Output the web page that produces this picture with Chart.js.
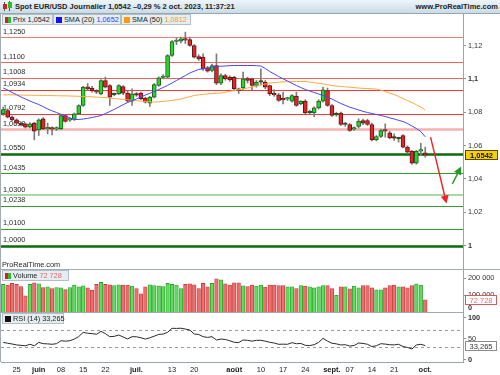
<!DOCTYPE html>
<html><head><meta charset="utf-8">
<script src="https://cdn.jsdelivr.net/npm/chart.js@4.4.0/dist/chart.umd.min.js"></script>
<style>
body{margin:0;background:#fff;}
#wrap{position:relative;width:500px;height:375px;overflow:hidden;background:#fff;font-family:"Liberation Sans",Arial,sans-serif;color:#222;}
canvas{position:absolute;left:0;}
#hdr{position:absolute;left:0;top:0;width:500px;height:13px;background:linear-gradient(#eef5f9,#cadbe6);border-bottom:1px solid #95a7b3;}
#title{position:absolute;left:15px;top:2px;font-size:7.5px;font-weight:bold;line-height:9px;white-space:nowrap;}
#site{position:absolute;right:2px;top:2px;font-size:7.5px;font-weight:bold;line-height:9px;}
.ic{position:absolute;}
.box{position:absolute;height:9px;background:#e6edf1;border:1px solid #b3bfc7;font-size:7.3px;line-height:9px;white-space:nowrap;}
.box .sq{position:absolute;left:2px;top:1.5px;width:6px;height:6px;}
.box .tx{position:absolute;left:10px;top:0;}
.rg{background:linear-gradient(90deg,#d42020 50%,#2bc02b 50%);}
.line{position:absolute;background:#a3abb1;}
.pr{position:absolute;font-size:7.3px;line-height:9px;white-space:nowrap;}
</style></head>
<body><div id="wrap">
<canvas id="cPrice" width="500" height="255" style="top:14px"></canvas>
<canvas id="cVol" width="500" height="49" style="top:269px"></canvas>
<canvas id="cRsi" width="500" height="63" style="top:312px"></canvas>

<div id="hdr">
  <div class="ic" style="left:4px;top:2px;width:1px;height:9px;background:#555"></div>
  <div class="ic" style="left:2.5px;top:4px;width:4px;height:5px;background:#d42020"></div>
  <div class="ic" style="left:9px;top:1px;width:1px;height:10px;background:#555"></div>
  <div class="ic" style="left:7.5px;top:2px;width:4px;height:6px;background:#2bc02b"></div>
  <span id="title">Spot EUR/USD Journalier 1,0542 –0,29 % 2 oct. 2023, 11:37:21</span>
  <span id="site">www.ProRealTime.com</span>
</div>
<div class="line" style="left:0;top:14px;width:1px;height:348px;"></div>
<div class="line" style="left:0;top:269px;width:500px;height:1px;"></div>
<div class="line" style="left:0;top:312px;width:463px;height:1px;"></div>

<div class="box" style="left:2px;top:14px;width:49px;"><span class="sq rg"></span><span class="tx">Prix 1,0542</span></div>
<div class="box" style="left:53px;top:14px;width:66px;"><span class="sq" style="background:#1010ff"></span><span class="tx">SMA (20) <span style="color:#3a3aff">1,0652</span></span></div>
<div class="box" style="left:121px;top:14px;width:68px;"><span class="sq" style="background:#ff9a10"></span><span class="tx">SMA (50) <span style="color:#f59a20">1,0812</span></span></div>

<div class="pr" style="left:2px;top:260px;">ProRealTime.com</div>
<div class="box" style="left:2px;top:270px;width:65px;"><span class="sq rg"></span><span class="tx">Volume <span style="color:#e06a6a">72 728</span></span></div>
<div class="box" style="left:2px;top:313px;width:60px;"><span class="sq" style="background:#111"></span><span class="tx">RSI (14) 33,265</span></div>
</div>

<script>
const FONT = '"Liberation Sans", Arial, sans-serif';

// ---- data ----
const nSlots = 104;                         // 96 trading days + empty space to the right
const slots = Array.from({length: nSlots}, (_, i) => i);
const tickIndex = [3, 8, 13, 18, 23, 30, 38, 43, 52, 58, 63, 68, 74, 78, 83, 88, 95];
const tickText  = ['25','juin','08','15','22','juil.','13','20','août','10','17','24','sept.','07','14','21','oct.'];
const monthText = ['juin','juil.','août','sept.','oct.'];

const open  = [1.0790,1.0810,1.0770,1.0754,1.0734,1.0730,1.0710,1.0734,1.0694,1.0760,
               1.0700,1.0705,1.0698,1.0700,1.0780,1.0752,1.0756,1.0790,1.0840,1.0952,
               1.0944,1.0925,1.0910,1.0990,1.0960,1.0905,1.0910,1.0954,1.0914,1.0866,
               1.0905,1.0914,1.0884,1.0854,1.0890,1.0960,1.1008,1.1010,1.1140,1.1224,
               1.1226,1.1236,1.1236,1.1200,1.1134,1.1130,1.1066,1.1050,1.1080,1.0974,
               1.1020,1.1010,1.1010,1.0940,1.0946,1.1002,1.1000,1.0960,1.0980,1.0980,
               1.0960,1.0910,1.0904,1.0880,1.0878,1.0866,1.0896,1.0850,1.0866,1.0796,
               1.0796,1.0826,1.0866,1.0930,1.0840,1.0784,1.0794,1.0726,1.0726,1.0698,
               1.0714,1.0750,1.0750,1.0726,1.0634,1.0654,1.0690,1.0676,1.0646,1.0640,
               1.0660,1.0590,1.0566,1.0494,1.0566,1.0556];
const high  = [1.0830,1.0820,1.0778,1.0760,1.0740,1.0735,1.0738,1.0740,1.0760,1.0768,
               1.0734,1.0712,1.0712,1.0785,1.0786,1.0765,1.0795,1.0845,1.0955,1.0972,
               1.0955,1.0935,1.0995,1.1010,1.0965,1.0915,1.0965,1.0960,1.0925,1.0940,
               1.0918,1.0920,1.0890,1.0895,1.0972,1.1012,1.1025,1.1145,1.1230,1.1245,
               1.1250,1.1280,1.1250,1.1205,1.1145,1.1150,1.1075,1.1088,1.1150,1.1030,
               1.1028,1.1018,1.1015,1.0945,1.1040,1.1010,1.1005,1.0990,1.1060,1.0990,
               1.0962,1.0935,1.0912,1.0920,1.0890,1.0905,1.0920,1.0870,1.0875,1.0812,
               1.0832,1.0875,1.0950,1.0945,1.0845,1.0800,1.0800,1.0740,1.0732,1.0712,
               1.0760,1.0758,1.0758,1.0735,1.0660,1.0698,1.0730,1.0686,1.0670,1.0650,
               1.0665,1.0598,1.0570,1.0570,1.0614,1.0590];
const low   = [1.0780,1.0765,1.0748,1.0728,1.0718,1.0705,1.0705,1.0634,1.0660,1.0695,
               1.0670,1.0664,1.0690,1.0695,1.0740,1.0745,1.0750,1.0785,1.0835,1.0932,
               1.0920,1.0912,1.0905,1.0945,1.0840,1.0898,1.0905,1.0905,1.0860,1.0840,
               1.0895,1.0875,1.0855,1.0834,1.0885,1.0955,1.1000,1.1005,1.1135,1.1205,
               1.1215,1.1212,1.1195,1.1125,1.1110,1.1050,1.1040,1.1042,1.0965,1.0965,
               1.0992,1.0985,1.0935,1.0912,1.0935,1.0975,1.0935,1.0950,1.0965,1.0940,
               1.0900,1.0895,1.0865,1.0850,1.0870,1.0860,1.0835,1.0845,1.0790,1.0788,
               1.0772,1.0818,1.0860,1.0835,1.0775,1.0775,1.0720,1.0715,1.0685,1.0690,
               1.0705,1.0725,1.0720,1.0628,1.0628,1.0648,1.0650,1.0640,1.0630,1.0620,
               1.0585,1.0552,1.0488,1.0488,1.0540,1.0530];
const close = [1.0815,1.0770,1.0754,1.0734,1.0724,1.0710,1.0730,1.0686,1.0754,1.0700,
               1.0705,1.0698,1.0702,1.0780,1.0745,1.0756,1.0790,1.0840,1.0950,1.0940,
               1.0928,1.0920,1.0990,1.0950,1.0890,1.0908,1.0960,1.0914,1.0866,1.0910,
               1.0902,1.0880,1.0860,1.0890,1.0966,1.1006,1.1012,1.1140,1.1224,1.1228,
               1.1240,1.1232,1.1200,1.1130,1.1120,1.1060,1.1046,1.1080,1.0974,1.1020,
               1.1000,1.0994,1.0940,1.0930,1.1000,1.0990,1.0960,1.0980,1.0982,1.0950,
               1.0910,1.0904,1.0870,1.0874,1.0882,1.0900,1.0840,1.0866,1.0796,1.0798,
               1.0826,1.0866,1.0934,1.0840,1.0780,1.0786,1.0726,1.0728,1.0690,1.0702,
               1.0746,1.0734,1.0726,1.0634,1.0654,1.0690,1.0686,1.0646,1.0644,1.0642,
               1.0590,1.0560,1.0494,1.0566,1.0570,1.0542];
const sma20 = [1.0945,1.0933,1.0918,1.0905,1.0891,1.0879,1.0867,1.0856,1.0846,1.0833,
               1.0819,1.0808,1.0798,1.0787,1.0777,1.0766,1.0756,1.0756,1.0759,1.0763,
               1.0768,1.0774,1.0780,1.0792,1.0804,1.0817,1.0831,1.0845,1.0858,1.0869,
               1.0879,1.0891,1.0903,1.0913,1.0924,1.0936,1.0948,1.0961,1.0975,1.0990,
               1.1005,1.1020,1.1035,1.1046,1.1056,1.1061,1.1065,1.1070,1.1074,1.1076,
               1.1077,1.1079,1.1080,1.1080,1.1080,1.1080,1.1080,1.1079,1.1077,1.1062,
               1.1044,1.1029,1.1014,1.1000,1.0987,1.0973,1.0960,1.0948,1.0936,1.0927,
               1.0918,1.0909,1.0900,1.0889,1.0879,1.0865,1.0852,1.0841,1.0830,1.0822,
               1.0813,1.0805,1.0798,1.0792,1.0786,1.0780,1.0774,1.0766,1.0759,1.0751,
               1.0744,1.0732,1.0717,1.0702,1.0684,1.0652];
const sma50 = [1.0904,1.0904,1.0904,1.0903,1.0903,1.0902,1.0902,1.0901,1.0901,1.0900,
               1.0900,1.0899,1.0899,1.0898,1.0898,1.0897,1.0896,1.0895,1.0894,1.0893,
               1.0892,1.0890,1.0889,1.0887,1.0884,1.0882,1.0879,1.0877,1.0874,1.0871,
               1.0869,1.0866,1.0864,1.0862,1.0860,1.0862,1.0865,1.0867,1.0871,1.0875,
               1.0879,1.0886,1.0893,1.0900,1.0904,1.0907,1.0910,1.0912,1.0913,1.0915,
               1.0920,1.0925,1.0930,1.0935,1.0939,1.0945,1.0951,1.0957,1.0963,1.0969,
               1.0975,1.0977,1.0980,1.0982,1.0983,1.0983,1.0984,1.0984,1.0984,1.0981,
               1.0978,1.0973,1.0969,1.0965,1.0960,1.0957,1.0954,1.0952,1.0950,1.0947,
               1.0945,1.0943,1.0942,1.0940,1.0939,1.0932,1.0924,1.0915,1.0906,1.0894,
               1.0882,1.0870,1.0858,1.0844,1.0831,1.0812];
const volume = [164000,160000,170000,164000,152000,97000,164000,174000,168000,146000,
                150000,140000,146000,144000,134000,146000,160000,150000,156000,144000,
                130000,164000,176000,164000,162000,158000,162000,160000,160000,154000,
                140000,108000,150000,162000,158000,156000,152000,170000,164000,160000,
                140000,164000,168000,162000,140000,170000,150000,170000,198000,192000,
                168000,160000,174000,174000,156000,152000,160000,154000,160000,148000,
                160000,160000,158000,158000,150000,150000,140000,158000,154000,150000,
                144000,150000,158000,158000,140000,99000,150000,150000,138000,154000,
                144000,158000,158000,144000,132000,132000,144000,158000,160000,150000,
                150000,144000,158000,168000,160000,72728];
const rsi = [41,39,37.2,35,34,33,36.5,33,41,38,
             37.5,36.5,38,45,44,45,49,55,65,63,
             62,60.5,67.5,62,54.7,55.5,58.7,54,49.2,54.7,
             54.5,52,49,52,56,60,61,65.2,74.8,74.5,
             75,73,70.7,61.1,60,54.7,53,54.7,46.8,49,
             48,45,41.3,40.5,46.8,46,44,46,46,44,
             41.3,39.5,36.5,36.8,36.5,40.4,37.9,38.5,34,33.5,
             35.5,41,50.8,44,38.9,37.5,34.8,35.5,32.4,33.5,
             39.6,38.5,36.5,31,33,37.9,37,35.5,35,36.5,
             31,29,25.2,34.8,36.5,33.265];

const priceTicks = [1, 1.02, 1.04, 1.06, 1.08, 1.1, 1.12];
const volTicks = [100000, 200000];
const volZero = 0;
const rsiTicks = [0, 50, 100];
const rsiBands = [30, 70];

const levels      = [1.125, 1.11, 1.1008, 1.0934, 1.0792, 1.0698, 1.055, 1.0435, 1.03, 1.0238, 1.01, 1.0];
const levelText   = ['1,1250','1,1100','1,1008','1,0934','1,0792','1,0698','1,0550','1,0435','1,0300','1,0238','1,0100','1,0000'];
const levelColor  = ['#f07a7a','#f06262','#f06262','#f03a3a','#f03a3a','#f6b0b0','#0b6b0b','#2e9e2e','#a9d9a9','#2e9e2e','#2e9e2e','#0b6b0b'];
const levelWidth  = [1, 1, 1, 1, 1, 2.5, 2.5, 1, 2, 1, 1, 2.5];

const arrowRed   = {from: [96.2, 1.0650], to: [99.8, 1.0252], color: '#ee2222'};
const arrowGreen = {from: [101.1, 1.0370], to: [103.1, 1.0474], color: '#2a962a'};

// ---- helpers ----
function tickLabelFor(i){ const k = tickIndex.indexOf(i); return k < 0 ? '' : tickText[k]; }
function fmtPrice(v){ return v.toFixed(2).replace(/0+$/,'').replace(/\.$/,'').replace('.',','); }
function fmtPrice4(v){ return v.toFixed(4).replace('.', ','); }
function fmtVol(v){ return String(v).replace(/\B(?=(\d{3})+(?!\d))/g, ' '); }
const isUp = i => close[i] >= open[i];

function xScale(show){
  return {
    type: 'category', labels: slots, offset: true, display: show,
    grid: {display: false, drawTicks: false},
    border: {display: show, color: '#9aa4ab'},
    ticks: {display: show, autoSkip: false, maxRotation: 0, minRotation: 0, padding: 3, color: '#222',
      callback: (v, i) => tickLabelFor(i),
      font: c => ({family: FONT, size: 7.5, weight: monthText.includes(tickLabelFor(c.index)) ? 'bold' : 'normal'})},
    afterFit: s => { s.paddingLeft = 0; s.paddingRight = 0; if (show) s.height = 13; }
  };
}
function yScale(min, max, ticks, fmt, boldFn){
  return {
    position: 'right', min, max,
    grid: {drawOnChartArea: false, drawTicks: true, tickLength: 3, color: '#8a949b'},
    border: {display: true, color: '#9aa4ab'},
    ticks: {padding: 2, color: '#333', callback: v => fmt(v),
      font: c => ({family: FONT, size: 7.3, weight: boldFn(c.tick ? c.tick.value : 0) ? 'bold' : 'normal'})},
    afterBuildTicks: s => { s.ticks = ticks.map(v => ({value: v})); },
    afterFit: s => { s.width = 37; s.paddingTop = 0; s.paddingBottom = 0; }
  };
}
function baseOpts(){
  return {responsive: false, animation: false, devicePixelRatio: 1, events: [],
    layout: {padding: {left: 1, right: 0, top: 0, bottom: 0}},
    plugins: {legend: {display: false}, tooltip: {enabled: false}}};
}
function valueBox(ctx, x, y, w, txt, fill, stroke, color, bold){
  ctx.save();
  ctx.fillStyle = fill; ctx.strokeStyle = stroke; ctx.lineWidth = 1;
  ctx.fillRect(x, Math.round(y) - 5, w, 10);
  ctx.strokeRect(x + 0.5, Math.round(y) - 4.5, w - 1, 9);
  ctx.fillStyle = color; ctx.font = (bold ? 'bold ' : '') + '7.5px ' + FONT;
  ctx.textAlign = 'center'; ctx.textBaseline = 'middle';
  ctx.fillText(txt, x + w / 2, Math.round(y) + 0.5);
  ctx.restore();
}
function drawArrow(chart, a){
  const {ctx, scales: {x, y}} = chart;
  const x0 = x.getPixelForValue(a.from[0]), y0 = y.getPixelForValue(a.from[1]);
  const x1 = x.getPixelForValue(a.to[0]),   y1 = y.getPixelForValue(a.to[1]);
  const ang = Math.atan2(y1 - y0, x1 - x0), L = 8, W = 4;
  const bx = x1 - L * Math.cos(ang), by = y1 - L * Math.sin(ang);
  ctx.save();
  ctx.strokeStyle = a.color; ctx.fillStyle = a.color; ctx.lineWidth = 1.4;
  ctx.beginPath(); ctx.moveTo(x0, y0); ctx.lineTo(bx, by); ctx.stroke();
  ctx.beginPath(); ctx.moveTo(x1, y1);
  ctx.lineTo(bx + W * Math.sin(ang), by - W * Math.cos(ang));
  ctx.lineTo(bx - W * Math.sin(ang), by + W * Math.cos(ang));
  ctx.closePath(); ctx.fill();
  ctx.restore();
}

// ---- price chart ----
const pricePlugin = {
  id: 'priceDeco',
  beforeDatasetsDraw(chart){
    const {ctx, chartArea: a, scales: {y}} = chart;
    ctx.save();
    levels.forEach((v, k) => {
      let py = Math.round(y.getPixelForValue(v));
      if (Math.round(levelWidth[k]) % 2 === 1) py += 0.5;
      ctx.strokeStyle = levelColor[k]; ctx.lineWidth = levelWidth[k];
      ctx.beginPath(); ctx.moveTo(a.left - 1, py); ctx.lineTo(a.right, py); ctx.stroke();
    });
    ctx.fillStyle = '#2a2a2a'; ctx.font = '7.3px ' + FONT; ctx.textBaseline = 'middle';
    levels.forEach((v, k) => { ctx.fillText(levelText[k], 3, y.getPixelForValue(v) - 5.5); });
    ctx.restore();
  },
  afterDatasetsDraw(chart){
    drawArrow(chart, arrowRed);
    drawArrow(chart, arrowGreen);
    const y = chart.scales.y;
    valueBox(chart.ctx, 465, y.getPixelForValue(close[close.length - 1]), 33,
      fmtPrice4(close[close.length - 1]), '#f6cf0a', '#5a4a00', '#111', true);
  }
};

new Chart(document.getElementById('cPrice'), {
  type: 'bar',
  data: {labels: slots, datasets: [
    {type: 'line', data: sma20, borderColor: '#4646ff', borderWidth: 1, pointRadius: 0, tension: 0, order: 0},
    {type: 'line', data: sma50, borderColor: '#ffa83e', borderWidth: 1, pointRadius: 0, tension: 0, order: 0},
    {data: open.map((o, i) => [o, close[i]]), grouped: false, barThickness: 4, minBarLength: 1.5,
      borderWidth: 1, borderSkipped: false,
      backgroundColor: open.map((o, i) => Math.abs(close[i] - o) < 0.0003 ? '#333' : (isUp(i) ? '#2fd02f' : '#e02626')),
      borderColor: open.map((o, i) => isUp(i) ? '#175f17' : '#5e1515'), order: 1},
    {data: low.map((l, i) => [l, high[i]]), grouped: false, barThickness: 1, backgroundColor: '#7c7c7c', order: 2}
  ]},
  options: Object.assign(baseOpts(), {
    scales: {x: xScale(false),
      y: yScale(0.9859, 1.1389, priceTicks, fmtPrice, v => Math.abs(v * 10 - Math.round(v * 10)) < 1e-6)}
  }),
  plugins: [pricePlugin]
});

// ---- volume chart ----
const volPlugin = {
  id: 'volDeco',
  afterDatasetsDraw(chart){
    const {ctx, chartArea: a, scales: {y}} = chart;
    ctx.save();
    ctx.fillStyle = '#333'; ctx.font = 'bold 7.3px ' + FONT; ctx.textBaseline = 'middle';
    ctx.fillText(fmtVol(volZero), a.right + 5, y.getPixelForValue(volZero) - 4.5);
    ctx.restore();
    const v = volume[volume.length - 1];
    valueBox(ctx, 465, y.getPixelForValue(v), 32, fmtVol(v), '#ffffff', '#d85a5a', '#e06a6a', false);
  }
};
const volOpts = baseOpts(); volOpts.layout.padding.bottom = 6;
volOpts.scales = {x: xScale(false), y: yScale(0, 256000, volTicks, fmtVol, v => v === 0)};
new Chart(document.getElementById('cVol'), {
  type: 'bar',
  data: {labels: slots, datasets: [{
    data: volume, grouped: false, barThickness: 3.6, borderWidth: 0.8, borderSkipped: 'start',
    backgroundColor: volume.map((v, i) => isUp(i) ? '#5fdc5f' : '#ee6e6e'),
    borderColor: volume.map((v, i) => isUp(i) ? '#2a9f2a' : '#c23c3c')
  }]},
  options: volOpts,
  plugins: [volPlugin]
});

// ---- RSI chart ----
const rsiPlugin = {
  id: 'rsiDeco',
  beforeDatasetsDraw(chart){
    const {ctx, chartArea: a, scales: {y}} = chart;
    ctx.save(); ctx.strokeStyle = '#9a9a9a'; ctx.lineWidth = 1; ctx.setLineDash([3, 3]);
    rsiBands.forEach(b => { const py = Math.round(y.getPixelForValue(b)) + 0.5;
      ctx.beginPath(); ctx.moveTo(a.left, py); ctx.lineTo(a.right, py); ctx.stroke(); });
    ctx.restore();
  },
  afterDatasetsDraw(chart){
    const y = chart.scales.y, v = rsi[rsi.length - 1];
    valueBox(chart.ctx, 465, y.getPixelForValue(v), 32, v.toFixed(3).replace('.', ','), '#ffffff', '#8a8a8a', '#333', false);
  }
};
const rsiOpts = baseOpts();
rsiOpts.scales = {x: xScale(true), y: yScale(-5.9, 113.8, rsiTicks, v => String(v), v => v !== 50)};
new Chart(document.getElementById('cRsi'), {
  type: 'line',
  data: {labels: slots, datasets: [{data: rsi, borderColor: '#2a2a2a', borderWidth: 1, pointRadius: 0, tension: 0}]},
  options: rsiOpts,
  plugins: [rsiPlugin]
});
</script>
</body></html>
